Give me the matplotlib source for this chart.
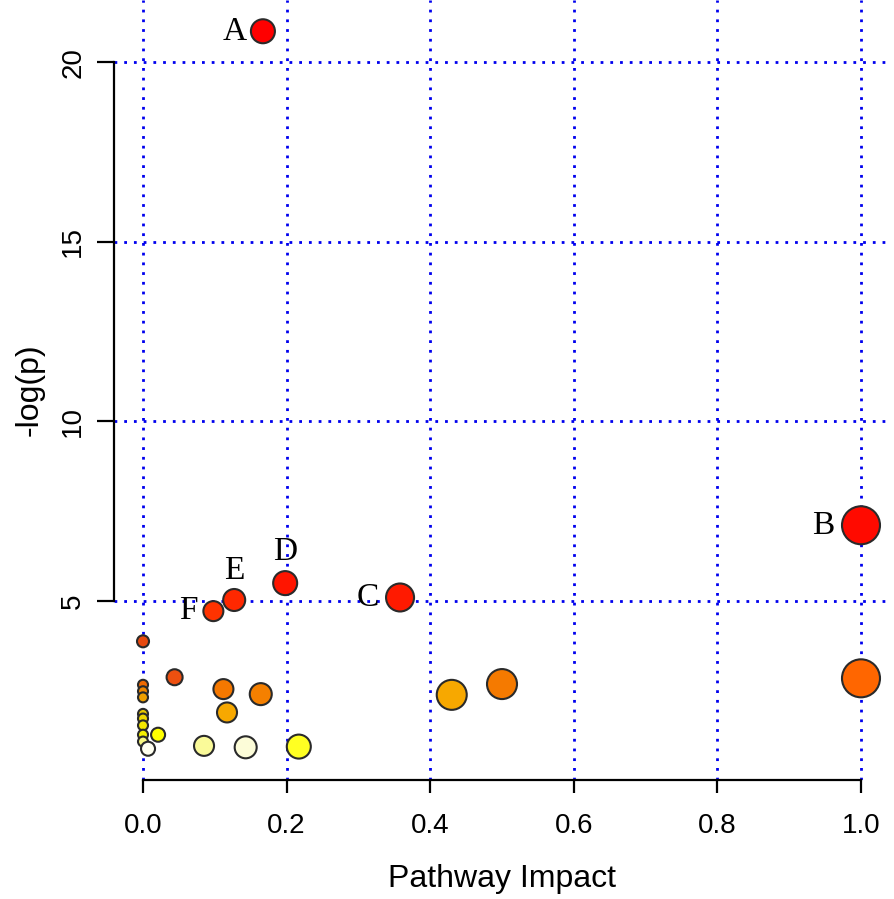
import numpy as np
import matplotlib.pyplot as plt

# Pathway impact vs -log(p) data
labels = ["A", "B", "C", "D", "E", "F"]
lab_x = [0.167, 1.0, 0.358, 0.198, 0.127, 0.098]
lab_y = [20.86, 7.11, 5.10, 5.50, 5.03, 4.72]
lab_r = [12, 19, 14, 12, 11, 10]
lab_col = ["#ff0000", "#ff0a00", "#ff1a00", "#ff1500", "#ff2800", "#ff3300"]
# label offsets in pixels (dx, dy)
lab_off = [(-28, 0), (-38, 0), (-32, 0), (0, 31), (0, 29), (-25, 0)]

other_x = [0.0, 0.044, 0.0, 0.0, 0.0, 0.112, 0.164, 0.117, 0.43, 0.50, 1.0,
           0.0, 0.0, 0.0, 0.0, 0.0, 0.021, 0.007, 0.085, 0.143, 0.217]
other_y = [3.88, 2.88, 2.67, 2.49, 2.32, 2.55, 2.41, 1.90, 2.39, 2.69, 2.85,
           1.86, 1.73, 1.54, 1.28, 1.09, 1.28, 0.89, 0.97, 0.93, 0.95]
other_r = [6, 8, 5, 5, 5, 10, 11, 10, 15, 15, 19,
           5, 5, 5, 5, 5, 7, 7, 10, 11, 12]
other_col = ["#e84a10", "#ee5010", "#f06a00", "#f08800", "#f0a000", "#f57800",
             "#f58000", "#f7a800", "#f7a800", "#f57a00", "#ff6600",
             "#e8c800", "#f0d800", "#f5e800", "#f5f000", "#f8f880", "#ffff00",
             "#fffff0", "#fafa99", "#fcfcd8", "#ffff22"]

xticks = [0.0, 0.2, 0.4, 0.6, 0.8, 1.0]
yticks = [5, 10, 15, 20]

dpi = 100
fig = plt.figure(figsize=(8.94, 8.99), dpi=dpi)
ax = fig.add_axes([114 / 894, 119 / 899, 776 / 894, 780 / 899])
ax.set_xlim(-0.0404, 1.0404)
ax.set_ylim(0.02, 21.73)

# dotted blue grid
for gx in xticks:
    ax.axvline(gx, color="#0000ee", lw=2.0, ls=(0, (1, 2.5)), zorder=1)
for gy in yticks:
    ax.axhline(gy, color="#0000ee", lw=2.0, ls=(0, (1, 2.5)), zorder=1)

def sz(r):
    return (2 * r * 72 / dpi) ** 2

ax.scatter(other_x, other_y, s=[sz(r) for r in other_r], c=other_col,
           edgecolors="#2a2a2a", linewidths=1.5, zorder=3, clip_on=False)
ax.scatter(lab_x, lab_y, s=[sz(r) for r in lab_r], c=lab_col,
           edgecolors="#2a2a2a", linewidths=1.5, zorder=3, clip_on=False)

for t, x, y, (dx, dy) in zip(labels, lab_x, lab_y, lab_off):
    ax.annotate(t, (x, y), xytext=(dx, dy), textcoords="offset pixels",
                ha="center", va="center", fontsize=24, family="Liberation Serif",
                zorder=4)

for s in ["top", "right"]:
    ax.spines[s].set_visible(False)
ax.spines["left"].set_bounds(5, 20)
ax.spines["bottom"].set_bounds(0, 1)
ax.spines["left"].set_linewidth(1.6)
ax.spines["bottom"].set_linewidth(1.6)

ax.set_xticks(xticks)
ax.set_xticklabels(["0.0", "0.2", "0.4", "0.6", "0.8", "1.0"])
ax.set_yticks(yticks)
ax.tick_params(axis="x", length=9.5, width=1.6, pad=14, labelsize=20)
ax.tick_params(axis="y", length=12, width=1.6, pad=8, labelsize=20,
               labelrotation=90)
for lbl in ax.get_yticklabels():
    lbl.set_va("center")
for lbl in ax.get_xticklabels() + ax.get_yticklabels():
    lbl.set_family("Liberation Sans")

ax.set_xlabel("Pathway Impact", fontsize=23, family="Liberation Sans", labelpad=18)
ax.set_ylabel("-log(p)", fontsize=23, family="Liberation Sans", labelpad=11)

fig.savefig("out.png", dpi=dpi)
